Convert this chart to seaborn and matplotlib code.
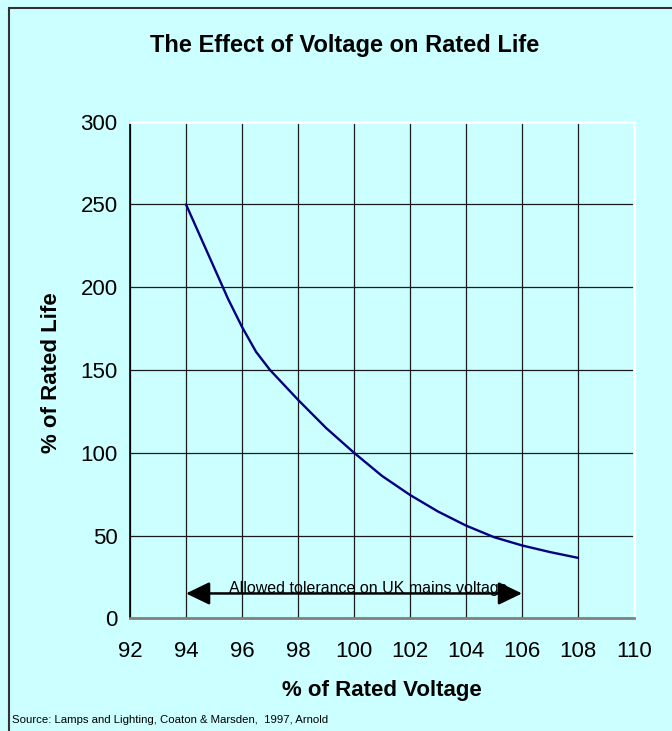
import numpy as np
import pandas as pd
import seaborn as sns
import matplotlib.pyplot as plt
from matplotlib.patches import Rectangle

# values
voltage = [94, 95, 95.5, 96, 96.5, 97, 98, 99, 100, 101, 102, 103, 104, 105, 106, 107, 108]
life = [250, 212, 193, 176, 161, 150, 132, 115, 100, 86, 74.5, 64.5, 56, 49, 44, 40, 36.5]

x_ticks = list(range(92, 111, 2))
y_ticks = list(range(0, 301, 50))

title = 'The Effect of Voltage on Rated Life'
x_label = '% of Rated Voltage'
y_label = '% of Rated Life'
note = 'Allowed tolerance on UK mains voltage'
tolerance = (94, 106)
source = 'Source: Lamps and Lighting, Coaton & Marsden,  1997, Arnold'

bg = '#CCFFFF'

sns.set_style('white')
plt.rcParams['font.family'] = ['Liberation Sans', 'DejaVu Sans']
plt.rcParams['text.color'] = 'black'
plt.rcParams['axes.labelcolor'] = 'black'

fig = plt.figure(figsize=(6.72, 7.31), dpi=100, facecolor=bg)
ax = fig.add_axes([0.1935, 0.1542, 0.75, 0.6793])
ax.set_facecolor(bg)

df = pd.DataFrame({'voltage': voltage, 'life': life})
sns.lineplot(data=df, x='voltage', y='life', color='#000080', linewidth=1.7, ax=ax, zorder=3)

ax.set_xlim(92, 110)
ax.set_ylim(0, 300)
ax.set_xticks(x_ticks)
ax.set_yticks(y_ticks)
ax.tick_params(axis='both', labelsize=16, length=5, width=1, direction='out',
               colors='#404040', labelcolor='black', pad=4)
ax.tick_params(axis='x', pad=11)

ax.grid(True, color='#1a1a1a', linewidth=0.9)
ax.set_axisbelow(True)

ax.spines['left'].set_color('black')
ax.spines['left'].set_linewidth(1.2)
ax.spines['bottom'].set_color('#808080')
ax.spines['bottom'].set_linewidth(2)
ax.spines['top'].set_color('white')
ax.spines['top'].set_linewidth(2)
ax.spines['right'].set_color('white')
ax.spines['right'].set_linewidth(2)

ax.set_xlabel(x_label, fontsize=16, fontweight='bold', color='black')
ax.set_ylabel(y_label, fontsize=16, fontweight='bold', color='black')
ax.xaxis.set_label_coords(0.5, -0.124)
ax.yaxis.set_label_coords(-0.135, 0.495)

# tolerance arrow
ax.annotate('', xy=(tolerance[0], 15), xytext=(tolerance[1], 15),
            arrowprops=dict(arrowstyle='<|-|>,head_length=1.45,head_width=0.7',
                            mutation_scale=10, color='black', lw=1.8,
                            shrinkA=0, shrinkB=0), zorder=4)
ax.text(100.5, 15.5, note, fontsize=11.5, ha='center', va='baseline', color='black', zorder=5)

fig.text(0.513, 0.938, title, fontsize=17, fontweight='bold', ha='center', va='center', color='black')
fig.text(0.018, 0.008, source, fontsize=8.2, ha='left', va='bottom', color='black')

fig.patches.append(Rectangle((0.014, -0.1), 1.2, 1.089, transform=fig.transFigure,
                             fill=False, edgecolor='#333333', linewidth=1.5))

fig.savefig('out.png', dpi=100, facecolor=bg)
